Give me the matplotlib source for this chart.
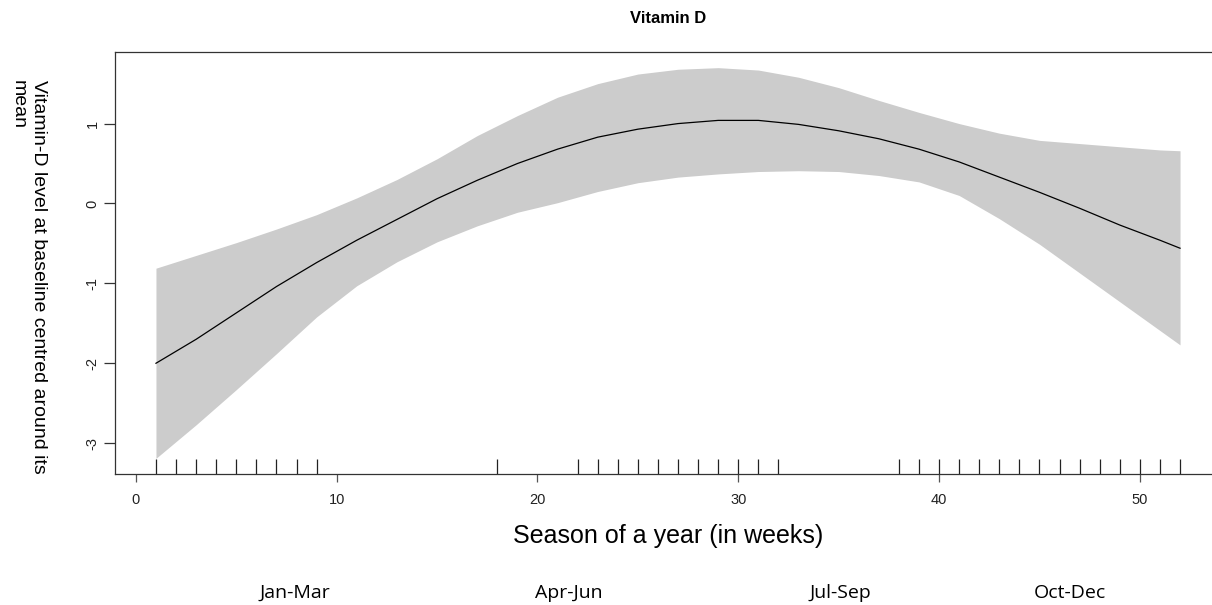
import matplotlib
matplotlib.use('Agg')
import matplotlib.pyplot as plt

weeks = [1, 3, 5, 7, 9, 11, 13, 15, 17, 19, 21, 23, 25, 27, 29, 31, 33, 35,
         37, 39, 41, 43, 45, 47, 49, 51, 52]
fit = [-2.00, -1.70, -1.37, -1.04, -0.74, -0.46, -0.20, 0.06, 0.29, 0.50,
       0.68, 0.83, 0.93, 1.00, 1.04, 1.04, 0.99, 0.91, 0.81, 0.68, 0.52,
       0.33, 0.14, -0.06, -0.27, -0.46, -0.56]
upper = [-0.81, -0.65, -0.49, -0.32, -0.14, 0.07, 0.30, 0.56, 0.85, 1.10,
         1.33, 1.50, 1.62, 1.68, 1.70, 1.67, 1.58, 1.45, 1.29, 1.14, 1.00,
         0.88, 0.79, 0.75, 0.71, 0.67, 0.66]
lower = [-3.19, -2.77, -2.33, -1.88, -1.42, -1.03, -0.73, -0.48, -0.28,
         -0.11, 0.01, 0.15, 0.26, 0.33, 0.37, 0.40, 0.41, 0.40, 0.35, 0.27,
         0.10, -0.19, -0.51, -0.87, -1.23, -1.59, -1.77]

# Observed weeks (rug)
rug_weeks = list(range(1, 10)) + [18] + list(range(22, 33)) + list(range(38, 53))

x_ticks = [0, 10, 20, 30, 40, 50]
y_ticks = [-3, -2, -1, 0, 1]
seasons = ['Jan-Mar', 'Apr-Jun', 'Jul-Sep', 'Oct-Dec']
season_x = [295, 569, 840, 1070]  # pixel centres

plt.rcParams['font.family'] = ['Liberation Sans', 'DejaVu Sans']

W, H = 1212, 605
fig = plt.figure(figsize=(W / 100, H / 100), dpi=100)
ax = fig.add_axes([115 / W, 1 - 474 / H, (1221 - 115) / W, (474 - 52) / H])

ax.fill_between(weeks, lower, upper, color='#CCCCCC', linewidth=0)
ax.plot(weeks, fit, color='black', linewidth=0.9)
ax.vlines(rug_weeks, 0, 0.035, transform=ax.get_xaxis_transform(),
          color='#222222', linewidth=0.9)

ax.set_xlim(-1.04, 54.04)
ax.set_ylim(-3.386, 1.896)

ax.set_xticks(x_ticks)
ax.set_yticks(y_ticks)
ax.set_yticklabels([str(v) for v in y_ticks], rotation=90, va='center')
ax.tick_params(axis='x', length=6, width=0.9, color='#555555',
               labelsize=10.5, labelcolor='#222222', pad=8)
ax.tick_params(axis='y', length=8, width=0.9, color='#333333',
               labelsize=10.5, labelcolor='#222222', pad=3)
for s in ax.spines.values():
    s.set_color('#333333')
    s.set_linewidth(0.9)

ax.set_title('Vitamin D', fontsize=12, fontweight='bold', pad=21)
ax.set_xlabel('Season of a year (in weeks)', fontsize=18, labelpad=12)

fig.text(28 / W, 1 - 80 / H,
         'Vitamin-D level at baseline centred around its\nmean',
         rotation=270, ha='center', va='top', multialignment='left',
         fontsize=14, linespacing=1.25)

for lab, px in zip(seasons, season_x):
    fig.text(px / W, 1 - 593 / H, lab, ha='center', va='center',
             fontsize=14, family=['Open Sans', 'DejaVu Sans'])

fig.savefig('out.png', dpi=100)
